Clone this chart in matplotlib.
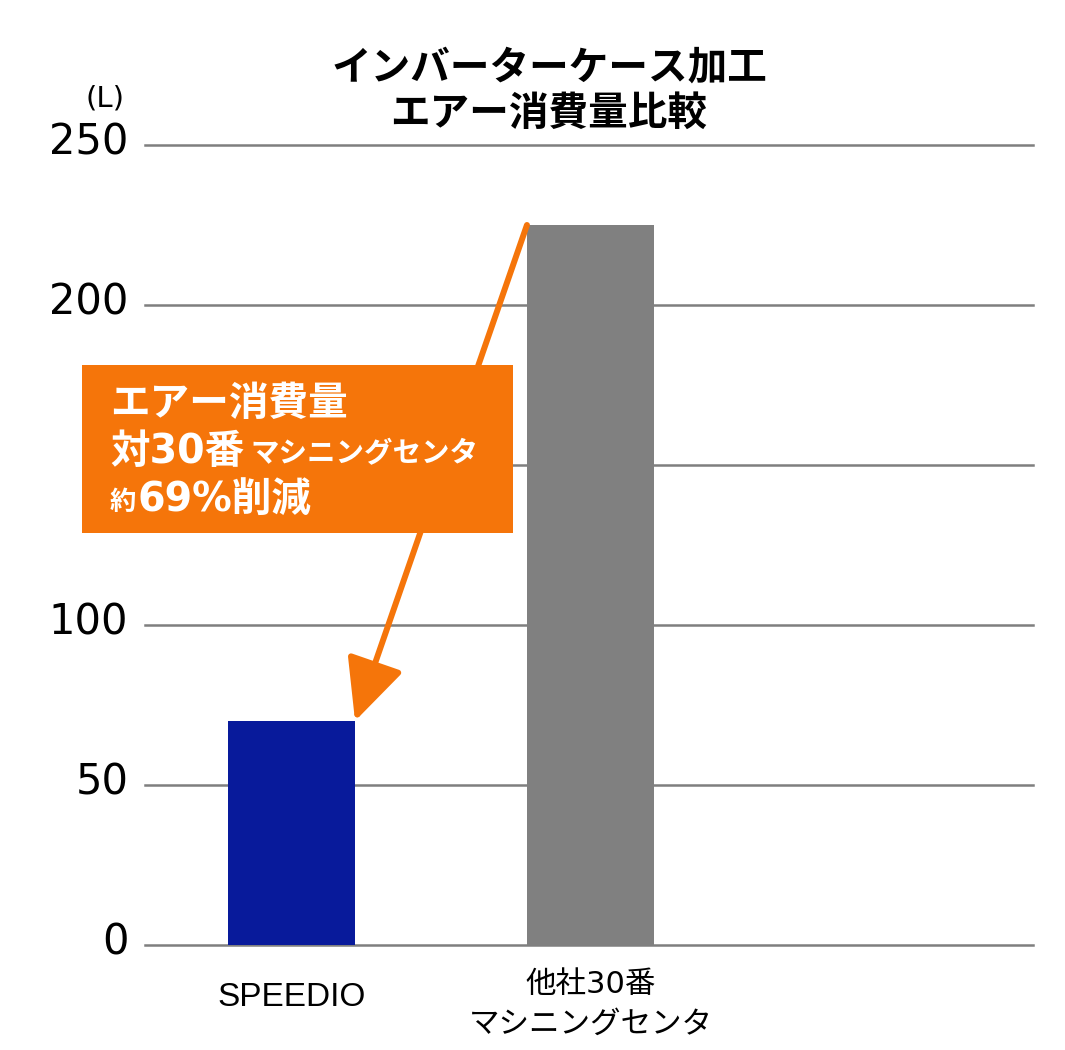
import matplotlib
matplotlib.use("Agg")
import matplotlib.pyplot as plt
from matplotlib.patches import Rectangle
from matplotlib.transforms import ScaledTranslation

plt.rcParams['font.family'] = ['Noto Sans CJK JP', 'DejaVu Sans']

# ---- data ----
categories = ['SPEEDIO', '他社30番\nマシニングセンタ']
values = [70, 225]
yticks = [0, 50, 100, 150, 200, 250]
ytick_labels = ['0', '50', '100', '', '200', '250']
title_lines = ['インバーターケース加工', 'エアー消費量比較']
unit_label = '(L)'
callout_line1 = 'エアー消費量'
callout_line2 = ['対30番', 'マシニングセンタ']
callout_line3 = ['約', '69%削減']

BLUE = '#081A9B'
GRAY = '#808080'
ORANGE = '#F5750A'
GRID = '#7F7F7F'
MIXED = ['DejaVu Sans', 'Noto Sans CJK JP']

W, H = 1065, 1050
fig = plt.figure(figsize=(W / 100, H / 100), dpi=100)
ax = fig.add_axes([145 / W, 105 / H, 888 / W, 800 / H])


def px(x, y):
    return x / W, 1 - y / H


bar_w = 0.425
xs = list(range(len(categories)))
ax.bar(xs, values, width=bar_w, color=[BLUE, GRAY], zorder=3)

ax.set_xlim(-0.49, 2.48)
ax.set_ylim(0, 250)
ax.set_yticks(yticks)
ax.set_yticklabels(ytick_labels, family='DejaVu Sans', fontsize=30)
ax.yaxis.grid(True, color=GRID, linewidth=1.8, zorder=0)
for gl in ax.yaxis.get_gridlines():
    gl.set_clip_on(False)
ax.set_axisbelow(True)
ax.tick_params(axis='y', length=0, pad=12)
shift_up = ScaledTranslation(0, 7 / 100, fig.dpi_scale_trans)
for lab in ax.get_yticklabels():
    lab.set_transform(lab.get_transform() + shift_up)
ax.set_xticks(xs)
ax.set_xticklabels(categories, fontsize=22, va='center', linespacing=1.45)
ax.tick_params(axis='x', length=0, pad=39)
xl = ax.get_xticklabels()
xl[0].set_family(['Liberation Sans'])
xl[0].set_fontsize(24)
xl[0].set_transform(xl[0].get_transform() + ScaledTranslation(0, 2 / 100, fig.dpi_scale_trans))
xl[1].set_family(MIXED)
xl[1].set_transform(xl[1].get_transform() + ScaledTranslation(0, -5 / 100, fig.dpi_scale_trans))
for s in ax.spines.values():
    s.set_visible(False)

# titles
fig.text(*px(549, 68), title_lines[0], ha='center', va='center', fontsize=28.5, weight='bold')
fig.text(*px(549, 113), title_lines[1], ha='center', va='center', fontsize=28.5, weight='bold')
fig.text(*px(105, 98), unit_label, ha='center', va='center', fontsize=21, family='DejaVu Sans')

# arrow
ax.annotate('', xy=(xs[0] + bar_w / 2, values[0]), xytext=(xs[1] - bar_w / 2, values[1]),
            arrowprops=dict(arrowstyle='-|>,head_length=0.95,head_width=0.45', lw=4.3,
                            color=ORANGE, shrinkA=0, shrinkB=0, mutation_scale=40),
            zorder=5, annotation_clip=False)

# callout box
x0, y0 = px(82, 533)
box = Rectangle((x0, y0), 431 / W, 168 / H, transform=fig.transFigure,
                facecolor=ORANGE, edgecolor='none', zorder=6, clip_on=False)
ax.add_artist(box)

tk = dict(color='white', weight='bold', va='center', ha='left', zorder=7)
fig.text(*px(110, 403), callout_line1, fontsize=28.5, **tk)
fig.text(*px(110, 452), callout_line2[0], fontsize=28.5, family=MIXED, **tk)
fig.text(*px(250, 454), callout_line2[1], fontsize=20.5, **tk)
fig.text(*px(110, 502), callout_line3[0], fontsize=19, **tk)
fig.text(*px(138, 500), callout_line3[1], fontsize=28.5, family=MIXED, **tk)

fig.savefig('out.png', dpi=100)
